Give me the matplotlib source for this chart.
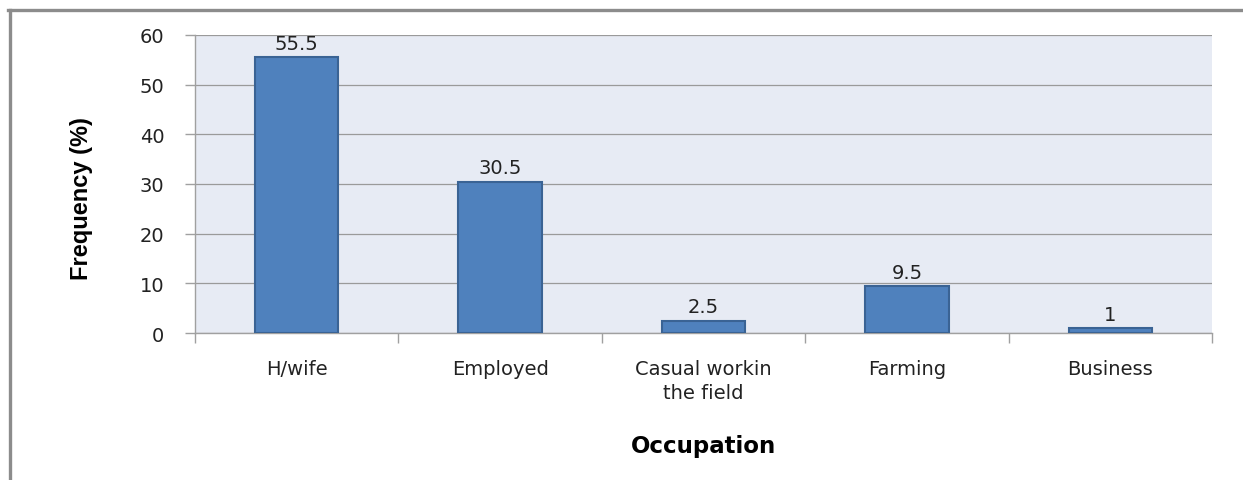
import matplotlib.pyplot as plt
from matplotlib.lines import Line2D
import numpy as np

# datos del grafico
categorias = ['H/wife', 'Employed', 'Casual workin\nthe field', 'Farming', 'Business']
frecuencia = [55.5, 30.5, 2.5, 9.5, 1]
etiquetas = ['55.5', '30.5', '2.5', '9.5', '1']
yticks = [0, 10, 20, 30, 40, 50, 60]

W, H = 1243, 481
fig = plt.figure(figsize=(W / 100, H / 100), dpi=100)
ax = fig.add_axes([195 / W, 1 - 334 / H, (1212 - 195) / W, (334 - 36) / H])

# marco gris de la figura (arriba e izquierda)
fig.add_artist(Line2D([8 / W, 1], [1 - 11 / H, 1 - 11 / H], color='#8c8c8c', lw=2.4,
                      transform=fig.transFigure))
fig.add_artist(Line2D([10 / W, 10 / W], [0, 1 - 11 / H], color='#8c8c8c', lw=2.4,
                      transform=fig.transFigure))

ax.set_facecolor('#e7ebf4')
x = np.arange(len(categorias))
barras = ax.bar(x, frecuencia, width=0.41, color='#4f81bd', edgecolor='#3a6394',
                linewidth=1.5, zorder=3)
ax.bar_label(barras, labels=etiquetas, padding=3, fontsize=14, color='#222222')

ax.set_xlim(-0.5, len(categorias) - 0.5)
ax.set_ylim(0, 60)
ax.set_yticks(yticks)
ax.yaxis.grid(True, color='#9a9a9a', lw=0.9, zorder=0)
ax.set_axisbelow(True)

for s in ['top', 'right']:
    ax.spines[s].set_visible(False)
for s in ['left', 'bottom']:
    ax.spines[s].set_color('#a0a0a0')
    ax.spines[s].set_linewidth(1.0)

ax.set_xticks(x)
ax.set_xticklabels(categorias, fontsize=14, color='#222222', linespacing=1.3)
ax.set_xticks(np.arange(len(categorias) + 1) - 0.5, minor=True)
ax.tick_params(axis='x', which='major', length=0, pad=19)
ax.tick_params(axis='x', which='minor', length=7, color='#a0a0a0', width=1.0)
ax.tick_params(axis='y', length=7, color='#a0a0a0', width=1.0, pad=15,
               labelsize=14, labelcolor='#222222')

ax.set_ylabel('Frequency (%)', fontsize=17, fontweight='bold',
              family=['Liberation Sans Narrow', 'Liberation Sans'])
ax.yaxis.set_label_coords(-0.1, 0.455)
ax.set_xlabel('Occupation', fontsize=16.5, fontweight='bold', labelpad=23)

plt.savefig('out.png', dpi=100)
